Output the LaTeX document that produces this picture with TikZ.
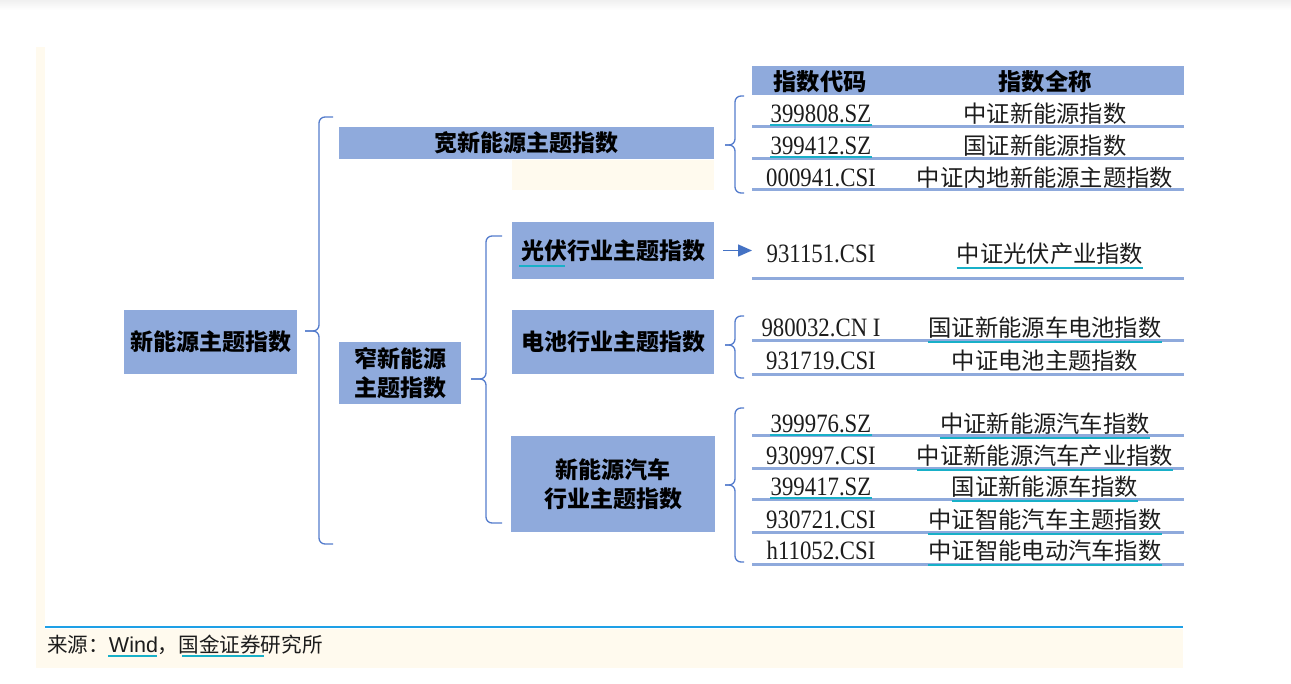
\documentclass[tikz,border=0pt]{standalone}
\usepackage{fontspec}
\setmainfont{Noto Sans CJK SC}
\newfontfamily\codefont[FakeStretch=0.86]{Liberation Serif}
\newfontfamily\srcfont{Liberation Sans}
\usepackage{xcolor}
\usepackage{tikz}
\usetikzlibrary{positioning,arrows.meta,calc}
\definecolor{boxblue}{RGB}{143,170,220}
\definecolor{bracecol}{RGB}{84,124,204}
\definecolor{arrowcol}{RGB}{68,114,196}
\definecolor{ulteal}{RGB}{24,176,200}
\definecolor{creamy}{RGB}{255,250,238}
\definecolor{srcline}{RGB}{30,160,230}
\definecolor{inkcol}{RGB}{28,28,28}
\tikzset{catbox/.style={fill=boxblue, text=black, align=center, font=\bfseries\fontsize{23}{29}\selectfont}}
\tikzset{codetxt/.style={text=inkcol, font=\codefont\fontsize{26.5}{28}\selectfont}}
\tikzset{nametxt/.style={text=inkcol, font=\fontsize{23.3}{28}\selectfont}}
\tikzset{headtxt/.style={text=black, font=\bfseries\fontsize{23.3}{28}\selectfont}}
\tikzset{rowline/.style={boxblue, line width=3pt}}
\tikzset{grpline/.style={bracecol, line width=1.3pt, rounded corners=6pt}}
\tikzset{ulmark/.style={ulteal, line width=2pt}}
\begin{document}
\begin{tikzpicture}[x=1pt,y=-1pt]
	\tikzstyle{every node}+=[inner sep=0pt]
	\useasboundingbox (0,0) rectangle (1291,684);
	\shade[top color=black!6, bottom color=white] (0,0) rectangle (1291,10);
	\fill[creamy] (36,47) rectangle (45,668);
	\fill[creamy] (36,629) rectangle (1183,668);
	\fill[creamy] (512,160) rectangle (714,190);
	\draw[srcline, line width=2pt] (45,627) -- (1183,627);
	% category boxes
	\node[catbox, minimum width=173pt, minimum height=64pt] (root) at (210.5,342) {新能源主题指数};
	\node[catbox, minimum width=375pt, minimum height=32pt] (wide) at (526.5,143) {宽新能源主题指数};
	\node[catbox, minimum width=122pt, minimum height=62pt] (narrow) at (400,373) {窄新能源\\主题指数};
	\node[catbox, minimum width=202pt, minimum height=57pt] (pv) at (613,250.5) {光伏行业主题指数};
	\node[catbox, minimum width=202pt, minimum height=64pt] (bat) at (613,342) {电池行业主题指数};
	\node[catbox, minimum width=204pt, minimum height=96pt] (ev) at (613,484) {新能源汽车\\行业主题指数};
	\draw[ulmark] (519,266) -- (565,266);
	% braces
	\coordinate (rootT) at (333,117); \coordinate (rootB) at (333,544); \coordinate (rootM) at (305,331);
	\draw[grpline] (rootT) -- +(-14,0) |- (rootM);
	\draw[grpline] (rootB) -- +(-14,0) |- (rootM);
	\coordinate (narT) at (502,236); \coordinate (narB) at (502,523); \coordinate (narM) at (471,379);
	\draw[grpline] (narT) -- +(-16,0) |- (narM);
	\draw[grpline] (narB) -- +(-16,0) |- (narM);
	\coordinate (wideT) at (744,96); \coordinate (wideB) at (744,193); \coordinate (wideM) at (725,145);
	\draw[grpline] (wideT) -- +(-9,0) |- (wideM);
	\draw[grpline] (wideB) -- +(-9,0) |- (wideM);
	\coordinate (batT) at (744,316); \coordinate (batB) at (744,378); \coordinate (batM) at (725,345);
	\draw[grpline] (batT) -- +(-9,0) |- (batM);
	\draw[grpline] (batB) -- +(-9,0) |- (batM);
	\coordinate (evT) at (744,408); \coordinate (evB) at (744,562); \coordinate (evM) at (725,485);
	\draw[grpline] (evT) -- +(-9,0) |- (evM);
	\draw[grpline] (evB) -- +(-9,0) |- (evM);
	\coordinate (pvend) at (752,250.5);
	\draw[arrowcol, line width=1.5pt, -{Triangle[length=14pt,width=12pt]}] ([xshift=9pt]pv.east) -- (pvend);
	% index table
	\fill[boxblue] (752,66) rectangle (1184,95);
	\node[headtxt] (hcode) at (820,82) {指数代码};
	\node[headtxt] (hname) at (1045,82) {指数全称};
	\foreach \y in {127,159,190,279,341,375,436,469,499,532,564}
		\draw[rowline] (752,\y) -- (1184,\y);
	\foreach \y/\code/\nx/\name/\uc/\un [count=\i] in {
		114/399808.SZ/1045/中证新能源指数/1/0,
		146/399412.SZ/1045/国证新能源指数/1/0,
		177.5/000941.CSI/1045/中证内地新能源主题指数/0/0,
		253.5/931151.CSI/1050/中证光伏产业指数/0/1,
		327.5/980032.CN I/1045/国证新能源车电池指数/0/1,
		361/931719.CSI/1045/中证电池主题指数/0/0,
		424/399976.SZ/1045/中证新能源汽车指数/1/1,
		455.5/930997.CSI/1045/中证新能源汽车产业指数/0/1,
		487/399417.SZ/1045/国证新能源车指数/1/1,
		519.5/930721.CSI/1045/中证智能汽车主题指数/0/1,
		550.5/h11052.CSI/1045/中证智能电动汽车指数/0/1}{
		\node[codetxt] (c\i) at (821,\y) {\code};
		\node[nametxt] (n\i) at (\nx,\y) {\name};
		\ifnum\uc=1 \draw[ulmark] ([yshift=-2pt]c\i.south west) -- ([yshift=-2pt]c\i.south east); \fi
		\ifnum\un=1 \draw[ulmark] ([yshift=-3pt]n\i.south west) -- ([yshift=-3pt]n\i.south east); \fi
	}
	% source line
	\node[anchor=west, text=inkcol, font=\fontsize{20.6}{24}\selectfont] (src) at (47,645) {来源：{\srcfont\fontsize{21.5}{24}\selectfont Wind}，国金证券研究所};
	\draw[ulmark] (108,656) -- (157,656);
	\draw[ulmark] (182,656) -- (264,656);
\end{tikzpicture}
\end{document}
